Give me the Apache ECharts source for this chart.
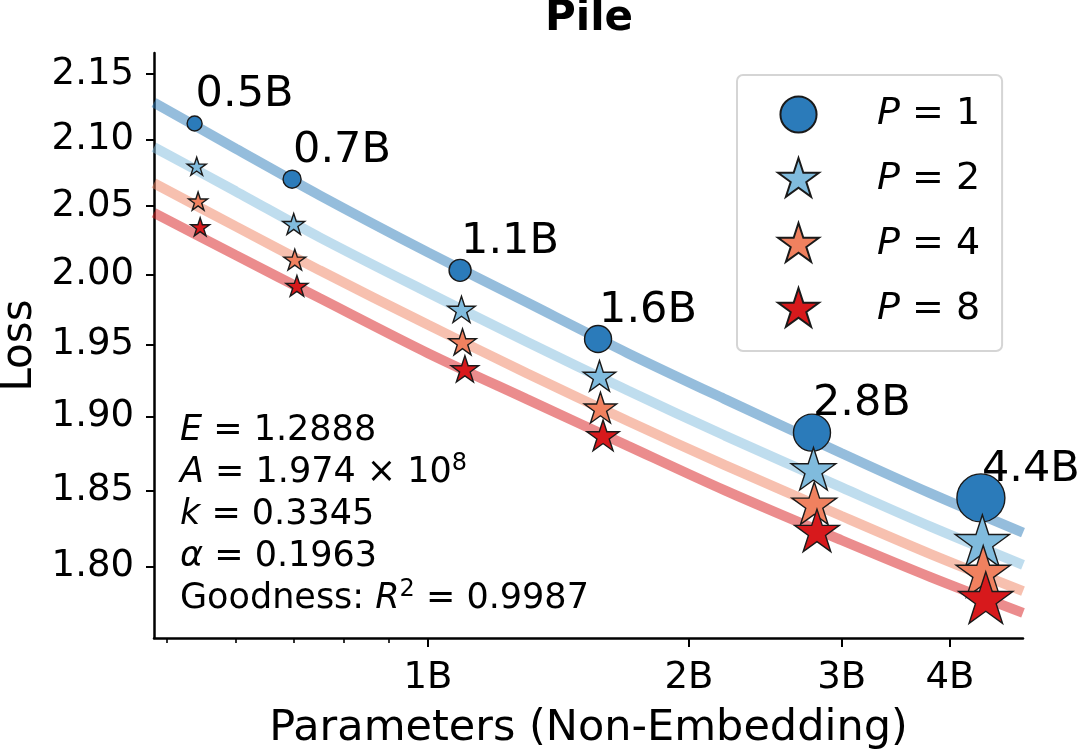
<!DOCTYPE html>
<html><head><meta charset="utf-8">
<script src="https://cdn.jsdelivr.net/npm/echarts@6/dist/echarts.min.js"></script>
<style>html,body{margin:0;padding:0;background:#fff}#c{width:1079px;height:756px}</style>
</head><body><div id="c"></div>
<script>
// ---------------- data ----------------
const sizeLabels = ['0.5B', '0.7B', '1.1B', '1.6B', '2.8B', '4.4B'];
const seriesNames = ['P = 1', 'P = 2', 'P = 4', 'P = 8'];
// parameters (billions, non-embedding)
const paramsP1 = [0.538, 0.697, 1.089, 1.571, 2.773, 4.343];
const paramsP2 = [0.541, 0.700, 1.093, 1.577, 2.784, 4.360];
const paramsP4 = [0.543, 0.702, 1.096, 1.581, 2.790, 4.370];
const paramsP8 = [0.546, 0.706, 1.103, 1.592, 2.810, 4.400];
// measured loss
const lossP1 = [2.112, 2.070, 2.003, 1.954, 1.889, 1.845];
const lossP2 = [2.079, 2.036, 1.974, 1.927, 1.863, 1.815];
const lossP4 = [2.053, 2.010, 1.951, 1.905, 1.840, 1.795];
const lossP8 = [2.034, 1.991, 1.932, 1.886, 1.822, 1.778];
// fitted curves
const fitParams = [0.483, 0.6, 0.75, 1.0, 1.3, 1.7, 2.2, 3.0, 3.8, 4.857];
const fitP1 = [2.128, 2.093, 2.058, 2.016, 1.980, 1.944, 1.912, 1.875, 1.848, 1.822];
const fitP2 = [2.094, 2.061, 2.027, 1.987, 1.952, 1.918, 1.887, 1.852, 1.826, 1.801];
const fitP4 = [2.067, 2.035, 2.003, 1.964, 1.930, 1.897, 1.867, 1.833, 1.808, 1.784];
const fitP8 = [2.045, 2.014, 1.983, 1.944, 1.912, 1.880, 1.850, 1.817, 1.793, 1.770];
// axes (both logarithmic)
const xRange = [0.483, 4.857];           // billions
const xMajorTicks = [1, 2, 3, 4];        // billions
const xMinorTicks = [0.5, 0.6, 0.7, 0.8, 0.9];
const yRange = [1.754, 2.1665];
const yTicks = [1.80, 1.85, 1.90, 1.95, 2.00, 2.05, 2.10, 2.15];
// fit annotation
const fitE = '1.2888', fitA = '1.974', fitAexp = '8', fitK = '0.3345', fitAlpha = '0.1963', fitR2 = '0.9987';

// ---------------- styles ----------------
const F = 'DejaVu Sans';
const colors = ['#2b7bba', '#80bbdd', '#f0815f', '#d7191c'];
const circleSizes = [15, 18, 22, 27, 37, 48];
const starSizes = [20, 23, 29, 34, 47, 57];

function starPath() {
  let d = 'path://M-1,-1M1,1';
  for (let i = 0; i < 10; i++) {
    const a = (-90 + i * 36) * Math.PI / 180;
    const r = i % 2 === 0 ? 1 : 0.381966;
    d += (i === 0 ? 'M' : 'L') + (r * Math.cos(a)).toFixed(4) + ',' + (r * Math.sin(a)).toFixed(4);
  }
  return d + 'Z';
}
const STAR = starPath();
const CIRCLE_ICON = 'path://M-1.19,-1.19M1.19,1.19M1,0A1,1,0,1,1,-1,0A1,1,0,1,1,1,0Z';

const lg = Math.log10;
const params = [paramsP1, paramsP2, paramsP4, paramsP8];
const losses = [lossP1, lossP2, lossP4, lossP8];
const fits = [fitP1, fitP2, fitP4, fitP8];

const series = [];
fits.forEach((f, k) => {
  series.push({
    type: 'line', name: 'fit ' + seriesNames[k], silent: true, z: 1,
    data: fitParams.map((n, i) => [lg(n), lg(f[i])]),
    showSymbol: false, symbol: 'none', smooth: 0.3,
    lineStyle: { width: 10, color: colors[k], opacity: 0.5, cap: 'butt' }
  });
});
losses.forEach((l, k) => {
  const s = {
    type: 'scatter', name: seriesNames[k], z: 3,
    symbol: k === 0 ? 'circle' : STAR,
    symbolSize: (v, p) => (k === 0 ? circleSizes : starSizes)[p.dataIndex],
    itemStyle: { color: colors[k], borderColor: '#1a1a1a', borderWidth: 1.4, opacity: 1 },
    data: params[k].map((n, i) => [lg(n), lg(l[i])])
  };
  if (k === 0) {
    s.label = {
      show: true, position: 'inside', align: 'left', verticalAlign: 'bottom', offset: [1, -7],
      formatter: p => sizeLabels[p.dataIndex],
      fontFamily: F, fontSize: 43, color: '#000'
    };
  }
  series.push(s);
});

const annot = [
  '{i|E} = ' + fitE,
  '{i|A} = ' + fitA + ' × 10{s|' + fitAexp + '}',
  '{i|k} = ' + fitK,
  '{i|α} = ' + fitAlpha,
  'Goodness: {i|R}{s|2} = ' + fitR2
].join('\n');

const option = {
  animation: false,
  backgroundColor: '#fff',
  title: [
    { text: 'Pile', left: 545, top: -2, padding: 0,
      textStyle: { fontFamily: F, fontSize: 42, fontWeight: 'bold', color: '#000' } },
    { text: annot, left: 180, top: 410, padding: 0,
      textStyle: { fontFamily: F, fontSize: 35, fontWeight: 'normal', color: '#000', lineHeight: 42,
        rich: {
          i: { fontFamily: F, fontSize: 35, fontStyle: 'italic', color: '#000', lineHeight: 42 },
          s: { fontFamily: F, fontSize: 24, color: '#000', verticalAlign: 'top', lineHeight: 24 }
        } } }
  ],
  legend: {
    data: seriesNames.map((n, i) => ({ name: n, icon: i === 0 ? CIRCLE_ICON : STAR })),
    orient: 'vertical', left: 737, top: 75, itemWidth: 43, itemHeight: 43, itemGap: 20,
    padding: [17, 22, 19, 39], borderColor: '#d5d5d5', borderWidth: 2, borderRadius: 6,
    backgroundColor: '#fff', selectedMode: false,
    formatter: n => '{i|P}' + n.slice(1),
    textStyle: { fontFamily: F, fontSize: 38, color: '#000', padding: [0, 0, 0, 52],
      rich: { i: { fontFamily: F, fontSize: 38, fontStyle: 'italic', color: '#000' } } }
  },
  grid: { left: 154, right: 56, top: 53, bottom: 118, containLabel: false, outerBoundsMode: 'none' },
  xAxis: [
    { type: 'value', min: lg(xRange[0]), max: lg(xRange[1]), position: 'bottom',
      name: 'Parameters (Non-Embedding)', nameLocation: 'middle', nameGap: 69,
      nameTextStyle: { fontFamily: F, fontSize: 43, color: '#000' },
      axisLine: { show: true, onZero: false, lineStyle: { color: '#000', width: 2.5 } },
      axisTick: { show: true, customValues: xMajorTicks.map(lg), length: 9, lineStyle: { color: '#000', width: 2 } },
      axisLabel: { show: true, customValues: xMajorTicks.map(lg), margin: 22,
        formatter: v => Math.round(Math.pow(10, v)) + 'B',
        fontFamily: F, fontSize: 37, color: '#000' },
      splitLine: { show: false }
    },
    { type: 'value', min: lg(xRange[0]), max: lg(xRange[1]), position: 'bottom',
      axisLine: { show: false, onZero: false },
      axisTick: { show: true, customValues: xMinorTicks.map(lg), length: 5, lineStyle: { color: '#000', width: 1.6 } },
      axisLabel: { show: false }, splitLine: { show: false }
    }
  ],
  yAxis: {
    type: 'value', min: lg(yRange[0]), max: lg(yRange[1]),
    name: 'Loss', nameLocation: 'middle', nameGap: 109,
    nameTextStyle: { fontFamily: F, fontSize: 42, color: '#000' },
    axisLine: { show: true, onZero: false, lineStyle: { color: '#000', width: 2.5 } },
    axisTick: { show: true, customValues: yTicks.map(lg), length: 8, lineStyle: { color: '#000', width: 2 } },
    axisLabel: { show: true, customValues: yTicks.map(lg), margin: 20,
      formatter: v => Math.pow(10, v).toFixed(2),
      fontFamily: F, fontSize: 37, color: '#000' },
    splitLine: { show: false }
  },
  series: series
};
const chart = echarts.init(document.getElementById('c'), null, { renderer: 'canvas' });
chart.setOption(option);
</script>
</body></html>
